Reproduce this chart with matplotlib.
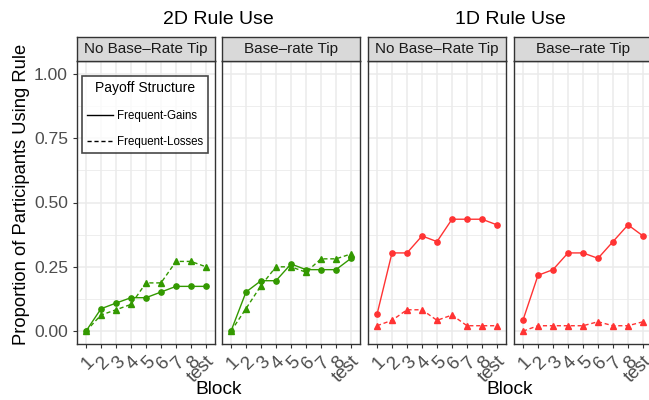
import matplotlib
matplotlib.use('Agg')
import matplotlib.pyplot as plt
from matplotlib.lines import Line2D

plt.rcParams['font.family'] = ['Liberation Sans', 'DejaVu Sans']

# data
blocks = ['1', '2', '3', '4', '5', '6', '7', '8', 'test']
panel_titles = ['No Base\u2013Rate Tip', 'Base\u2013rate Tip', 'No Base\u2013Rate Tip', 'Base\u2013rate Tip']
group_titles = ['2D Rule Use', '1D Rule Use']

gains_2d_notip = [0.0, 0.087, 0.109, 0.130, 0.130, 0.152, 0.174, 0.174, 0.174]
losses_2d_notip = [0.0, 0.0625, 0.083, 0.104, 0.1875, 0.1875, 0.271, 0.271, 0.25]
gains_2d_tip = [0.0, 0.152, 0.196, 0.196, 0.261, 0.239, 0.239, 0.239, 0.283]
losses_2d_tip = [0.0, 0.0875, 0.177, 0.25, 0.25, 0.229, 0.281, 0.281, 0.30]
gains_1d_notip = [0.065, 0.304, 0.304, 0.370, 0.348, 0.435, 0.435, 0.435, 0.413]
losses_1d_notip = [0.021, 0.042, 0.083, 0.083, 0.042, 0.0625, 0.021, 0.021, 0.021]
gains_1d_tip = [0.043, 0.217, 0.239, 0.304, 0.304, 0.283, 0.348, 0.413, 0.370]
losses_1d_tip = [0.0, 0.021, 0.021, 0.021, 0.021, 0.0365, 0.021, 0.021, 0.0365]

gains = [gains_2d_notip, gains_2d_tip, gains_1d_notip, gains_1d_tip]
losses = [losses_2d_notip, losses_2d_tip, losses_1d_notip, losses_1d_tip]
colors = ['#339900', '#339900', '#ff3333', '#ff3333']

W, H = 649, 400
fig = plt.figure(figsize=(W / 100, H / 100), dpi=100)

lefts = [77, 222, 368, 514]
pw = 138
top, bottom = 61, 344
strip_top = 37

x = list(range(1, len(blocks) + 1))
axes = []
for i in range(4):
    ax = fig.add_axes([lefts[i] / W, (H - bottom) / H, pw / W, (bottom - top) / H])
    axes.append(ax)
    ax.set_xlim(0.4, 9.6)
    ax.set_ylim(-0.05, 1.05)
    ax.set_yticks([0, 0.25, 0.5, 0.75, 1.0])
    ax.set_yticks([0.125, 0.375, 0.625, 0.875], minor=True)
    ax.set_xticks(x)
    ax.grid(True, which='major', color='#ebebeb', lw=1.1)
    ax.grid(True, which='minor', axis='y', color='#ebebeb', lw=0.6)
    ax.set_axisbelow(True)
    for s in ax.spines.values():
        s.set_color('#333333')
        s.set_linewidth(1.0)
    ax.tick_params(which='major', length=3, color='#333333', width=0.8)
    ax.tick_params(which='minor', length=0)
    ax.set_xticklabels(blocks, rotation=45, ha='right', va='top', fontsize=13.5,
                       color='#4d4d4d', rotation_mode='anchor')
    if i == 0:
        ax.set_yticklabels(['0.00', '0.25', '0.50', '0.75', '1.00'], fontsize=12.6, color='#4d4d4d')
    else:
        ax.tick_params(axis='y', labelleft=False, length=0)

    ax.plot(x, gains[i], color=colors[i], lw=1.0, marker='o', ms=3.8, ls='-')
    ax.plot(x, losses[i], color=colors[i], lw=1.0, marker='^', ms=4.5, ls=(0, (3, 2)))

    # strip
    sax = fig.add_axes([lefts[i] / W, (H - top) / H, pw / W, (top - strip_top) / H])
    sax.set_facecolor('#d9d9d9')
    sax.set_xticks([])
    sax.set_yticks([])
    for s in sax.spines.values():
        s.set_color('#333333')
        s.set_linewidth(1.0)
    sax.text(0.5, 0.5, panel_titles[i], ha='center', va='center', fontsize=11,
             color='#1a1a1a', transform=sax.transAxes)

# group titles and x labels
centers = [(77 + 360) / 2, (368 + 652) / 2]
for c, t in zip(centers, group_titles):
    fig.text(c / W, 1 - 20 / H, t, ha='center', va='center', fontsize=14)
    fig.text(c / W, 1 - 389 / H, 'Block', ha='center', va='center', fontsize=13.8)

fig.text(22 / W, 1 - 194 / H, 'Proportion of Participants Using Rule', rotation=90,
         ha='center', va='center', fontsize=13.2)

# legend
handles = [Line2D([], [], color='black', lw=1.0, ls='-'),
           Line2D([], [], color='black', lw=1.0, ls=(0, (3, 2)))]
leg = axes[0].legend(handles, ['Frequent-Gains', 'Frequent-Losses'], title='Payoff Structure',
                     loc='upper left', bbox_to_anchor=(5 / 138, 1 - 15 / 283), borderaxespad=0,
                     fontsize=8.3, title_fontsize=10, frameon=True, fancybox=False,
                     handlelength=2.2, handletextpad=0.35, labelspacing=1.25, borderpad=0.45)
leg.get_frame().set_edgecolor('#1a1a1a')
leg.get_frame().set_linewidth(1.2)

fig.savefig('out.png', dpi=100)
